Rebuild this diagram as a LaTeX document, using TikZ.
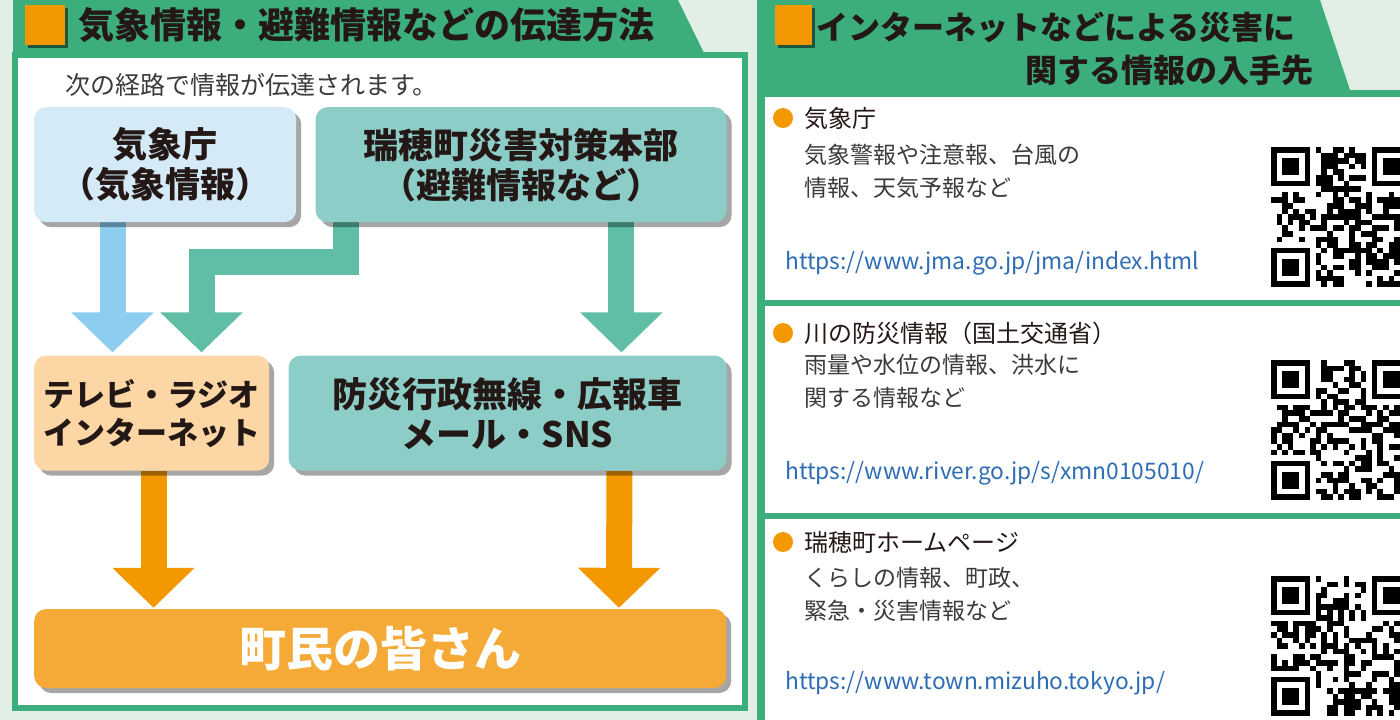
\documentclass[tikz,border=0pt]{standalone}
\usepackage{fontspec}
\setmainfont{Noto Sans CJK JP}
\usetikzlibrary{positioning,shadows,arrows.meta,backgrounds}

\definecolor{bggreen}{RGB}{226,239,230}
\definecolor{framegreen}{RGB}{60,174,124}
\definecolor{squareorange}{RGB}{243,152,0}
\definecolor{skyfill}{RGB}{212,234,247}
\definecolor{skyarrow}{RGB}{140,205,240}
\definecolor{tealfill}{RGB}{140,205,200}
\definecolor{tealdark}{RGB}{95,190,165}
\definecolor{peachfill}{RGB}{252,214,165}
\definecolor{orangefill}{RGB}{245,169,55}
\definecolor{inkdark}{RGB}{35,24,21}
\definecolor{inkgrey}{RGB}{62,58,57}
\definecolor{urlblue}{RGB}{46,109,180}

\tikzset{
  flowbox/.style={rounded corners=12pt, minimum height=115pt, inner sep=0pt, align=center,
    text=inkdark, font=\bfseries\fontsize{35}{40}\selectfont,
    drop shadow={shadow xshift=5pt, shadow yshift=-5pt, fill=black, opacity=.35}},
  flowarrow/.style={line width=26pt, -{Triangle[width=80pt,length=40pt]}, shorten >=3pt},
  headsquare/.style={fill=squareorange, minimum width=40pt, minimum height=40pt, inner sep=0pt,
    drop shadow={shadow xshift=3pt, shadow yshift=-3pt, fill=black, opacity=.5}},
  headtitle/.style={inner sep=0pt, text=inkdark, font=\bfseries\fontsize{36}{40}\selectfont},
  bulletdot/.style={circle, fill=squareorange, minimum size=20pt, inner sep=0pt},
  itemtitle/.style={inner sep=0pt, anchor=west, text=inkdark, font=\fontsize{24}{28}\selectfont},
  itemtext/.style={inner sep=0pt, anchor=west, align=left, text=inkgrey, font=\fontsize{23}{33}\selectfont},
  urltext/.style={inner sep=0pt, anchor=west, text=urlblue, font=\fontsize{22.8}{27}\selectfont},
}

% QR-like pattern: top left x, top left y, seed
\newcommand{\qrblock}[3]{%
  \pgfmathsetseed{#3}
  \foreach \qi in {0,...,24}{
    \foreach \qj in {0,...,24}{
      \pgfmathtruncatemacro{\qrfinder}{((\qi<8)&&(\qj<8))||((\qi>16)&&(\qj<8))||((\qi<8)&&(\qj>16))}
      \pgfmathtruncatemacro{\qrbit}{rnd<0.5}
      \ifnum\qrfinder=0 \ifnum\qrbit=1
        \fill[black] (#1+\qj*5.6,#2+\qi*5.6) rectangle ++(5.65,5.65);
      \fi\fi
    }
  }
  \foreach \fr/\fc in {0/0,18/0,0/18}{
    \fill[black] (#1+\fc*5.6,#2+\fr*5.6) rectangle ++(39.2,39.2);
    \fill[white] (#1+\fc*5.6+5.6,#2+\fr*5.6+5.6) rectangle ++(28,28);
    \fill[black] (#1+\fc*5.6+11.2,#2+\fr*5.6+11.2) rectangle ++(16.8,16.8);
  }
}

\begin{document}
\begin{tikzpicture}[x=1pt, y=-1pt]
	\useasboundingbox (0,0) rectangle (1400,720);
	\clip (0,0) rectangle (1400,720);
	% Panels
	\begin{scope}[on background layer]
	\fill[bggreen] (0,0) rectangle (1400,720);
	\fill[framegreen] (13,0) -- (678,0) -- (705,55) -- (13,55) -- cycle;
	\fill[framegreen] (12,52) rectangle (748,711);
	\fill[white] (18,58) rectangle (742,705);
	\fill[framegreen] (757,0) -- (1320,0) -- (1350,90) -- (757,90) -- cycle;
	\fill[framegreen] (757,90) rectangle (1400,720);
	\fill[white] (765,97) rectangle (1400,720);
	\fill[framegreen] (765,300) rectangle (1400,306);
	\fill[framegreen] (765,513) rectangle (1400,519);
	\end{scope}

	% Define nodes
	\node[headsquare] (sqL) at (45,25) {};
	\node[headtitle, right=13pt of sqL] (titleL) {気象情報・避難情報などの伝達方法};
	\node[anchor=west, inner sep=0pt, text=inkgrey, font=\fontsize{25}{28}\selectfont] (lead) at (65,85) {次の経路で情報が伝達されます。};

	\node[flowbox, fill=skyfill, minimum width=262pt, anchor=north west] (kishocho) at (34,107) {気象庁\\（気象情報）};
	\node[flowbox, fill=tealfill, minimum width=411pt, right=19pt of kishocho] (honbu) {瑞穂町災害対策本部\\（避難情報など）};
	\node[flowbox, fill=peachfill, minimum width=235pt, font=\bfseries\fontsize{31}{38}\selectfont,
	      below=133pt of kishocho.south west, anchor=north west] (media) {テレビ・ラジオ\\インターネット};
	\node[flowbox, fill=tealfill, minimum width=438pt, right=19pt of media] (bousai) {防災行政無線・広報車\\メール・SNS};
	\node[flowbox, fill=orangefill, minimum width=692pt, minimum height=79pt, text=white,
	      font=\bfseries\fontsize{47}{50}\selectfont,
	      below=138pt of media.south west, anchor=north west] (minasan) {町民の皆さん};

	\node[headsquare, minimum width=37pt] (sqR) at (793.5,25) {};
	\node[headtitle, font=\bfseries\fontsize{32}{36}\selectfont, anchor=west] (titleR1) at (816,27) {インターネットなどによる災害に};
	\node[headtitle, font=\bfseries\fontsize{32}{36}\selectfont, anchor=east] (titleR2) at (1314,70) {関する情報の入手先};

	\node[bulletdot] (dot1) at (783,118) {};
	\node[itemtitle, right=11pt of dot1] (src1) {気象庁};
	\node[itemtext] (desc1) at (804,171.5) {気象警報や注意報、台風の\\情報、天気予報など};
	\node[urltext] (url1) at (785,263) {https://www.jma.go.jp/jma/index.html};

	\node[bulletdot] (dot2) at (783,333) {};
	\node[itemtitle, right=11pt of dot2] (src2) {川の防災情報（国土交通省）};
	\node[itemtext] (desc2) at (804,381.5) {雨量や水位の情報、洪水に\\関する情報など};
	\node[urltext] (url2) at (785,473) {https://www.river.go.jp/s/xmn0105010/};

	\node[bulletdot] (dot3) at (783,542) {};
	\node[itemtitle, right=11pt of dot3] (src3) {瑞穂町ホームページ};
	\node[itemtext] (desc3) at (804,594.5) {くらしの情報、町政、\\緊急・災害情報など};
	\node[urltext] (url3) at (785,683) {https://www.town.mizuho.tokyo.jp/};

	% Arrows
	\coordinate (elbow) at (345.5,261.5);
	\begin{scope}[on background layer]
	\draw[flowarrow, draw=skyarrow] ([xshift=78.5pt]kishocho.south west) -- ([xshift=78.5pt]media.north west);
	\draw[flowarrow, draw=tealdark, line join=miter] (honbu.south -| elbow) -- (elbow) -| ([xshift=167.5pt]media.north west);
	\draw[flowarrow, draw=tealdark] ([xshift=306pt]honbu.south west) -- ([xshift=333pt]bousai.north west);
	\draw[flowarrow, draw=squareorange, shorten >=1pt] ([xshift=119.5pt]media.south west) -- ([xshift=119.5pt]minasan.north west);
	\draw[flowarrow, draw=squareorange, shorten >=1pt] ([xshift=331pt]bousai.south west) -- ([xshift=585pt]minasan.north west);
	\end{scope}

	% QR codes
	\qrblock{1271}{147}{11}
	\qrblock{1271}{360}{23}
	\qrblock{1271}{576}{37}
\end{tikzpicture}
\end{document}
